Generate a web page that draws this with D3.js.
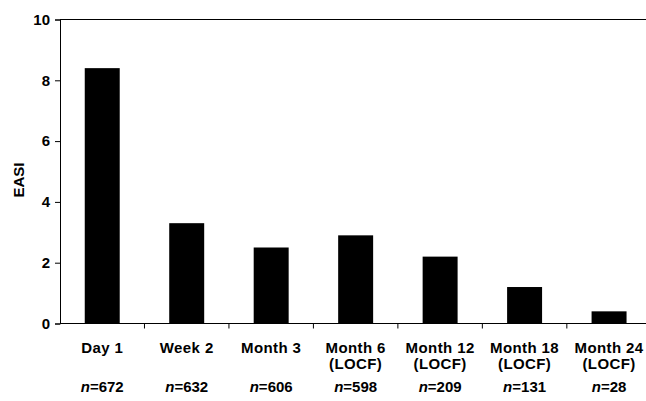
<!DOCTYPE html>
<html>
<head>
<meta charset="utf-8">
<script src="https://cdn.jsdelivr.net/npm/d3@7"></script>
<style>
  html, body { margin: 0; padding: 0; background: #fff; }
  svg text { font-family: "Liberation Sans", Arial, sans-serif; font-weight: bold; fill: #000; }
</style>
</head>
<body>
<svg id="chart" width="646" height="401"></svg>
<script>
// Data
const categories = ["Day 1", "Week 2", "Month 3", "Month 6", "Month 12", "Month 18", "Month 24"];
const subLabels  = ["", "", "", "(LOCF)", "(LOCF)", "(LOCF)", "(LOCF)"];
const nValues    = [672, 632, 606, 598, 209, 131, 28];
const easi       = [8.4, 3.3, 2.5, 2.9, 2.2, 1.2, 0.4];
const yTicks     = [0, 2, 4, 6, 8, 10];

(function () {
const svg = d3.select("#chart");
const mLeft = 60, mRight = 651.3, mTop = 19.5, mBottom = 323.5;
const FONT = "'Liberation Sans', Arial, sans-serif";

const x = d3.scaleBand().domain(categories).range([mLeft, mRight])
  .paddingInner(0.586).paddingOuter(0.293);
const xb = d3.scaleBand().domain(categories).range([mLeft, mRight]).padding(0);
const y = d3.scaleLinear().domain([0, 10]).range([mBottom, mTop]);

// bars
svg.append("g").selectAll("rect").data(easi).join("rect")
  .attr("x", (d, i) => x(categories[i]))
  .attr("width", x.bandwidth())
  .attr("y", d => y(d))
  .attr("height", d => y(0) - y(d))
  .attr("fill", "#000");

// top frame line
svg.append("line").attr("x1", mLeft).attr("x2", mRight)
  .attr("y1", y(10)).attr("y2", y(10))
  .attr("stroke", "#000").attr("stroke-width", 1);

// y axis
const yAxis = svg.append("g").attr("transform", `translate(${mLeft},0)`)
  .call(d3.axisLeft(y).tickValues(yTicks).tickSize(5).tickPadding(5).tickFormat(d3.format("d")));
yAxis.select(".domain").attr("stroke", "#000");
yAxis.selectAll(".tick line").attr("stroke", "#000");
yAxis.selectAll("text").style("font-size", "15px").style("font-family", FONT)
  .style("font-weight", "bold");

// x axis line
svg.append("line").attr("x1", mLeft).attr("x2", mRight)
  .attr("y1", mBottom).attr("y2", mBottom).attr("stroke", "#000");

// x boundary ticks
const bounds = categories.slice(1).map(c => xb(c));
svg.append("g").selectAll("line").data(bounds).join("line")
  .attr("x1", d => d).attr("x2", d => d)
  .attr("y1", mBottom).attr("y2", mBottom + 5)
  .attr("stroke", "#000");

// category labels
const lab = svg.append("g").selectAll("g").data(categories).join("g")
  .attr("transform", c => `translate(${x(c) + x.bandwidth() / 2},0)`);
lab.append("text").attr("y", 353).attr("text-anchor", "middle")
  .style("font-size", "15px").style("letter-spacing", "0.4px")
  .text(c => c);
lab.append("text").attr("y", 369).attr("text-anchor", "middle")
  .style("font-size", "15px").style("letter-spacing", "0.4px")
  .text((c, i) => subLabels[i]);
const nt = lab.append("text").attr("y", 392).attr("text-anchor", "middle")
  .style("font-size", "15px");
nt.append("tspan").style("font-style", "italic").text("n");
nt.append("tspan").text((c, i) => "=" + nValues[i]);

// y label
svg.append("text")
  .attr("transform", `translate(24,180) rotate(-90)`)
  .attr("text-anchor", "middle")
  .style("font-size", "15px")
  .text("EASI");
})();
</script>
</body>
</html>
